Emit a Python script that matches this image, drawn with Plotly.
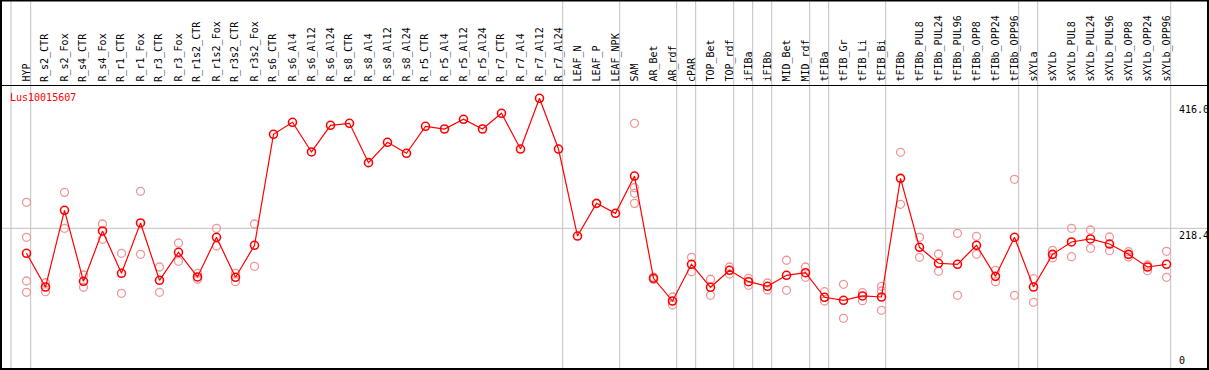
import plotly.graph_objects as go

categories = ["HYP", "R_s2_CTR", "R_s2_Fox", "R_s4_CTR", "R_s4_Fox", "R_r1_CTR", "R_r1_Fox",
              "R_r3_CTR", "R_r3_Fox", "R_r1s2_CTR", "R_r1s2_Fox", "R_r3s2_CTR", "R_r3s2_Fox",
              "R_s6_CTR", "R_s6_Al4", "R_s6_Al12", "R_s6_Al24", "R_s8_CTR", "R_s8_Al4", "R_s8_Al12",
              "R_s8_Al24", "R_r5_CTR", "R_r5_Al4", "R_r5_Al12", "R_r5_Al24", "R_r7_CTR", "R_r7_Al4",
              "R_r7_Al12", "R_r7_Al24", "LEAF_N", "LEAF_P", "LEAF_NPK", "SAM", "AR_Bet", "AR_rdf",
              "cPAR", "TOP_Bet", "TOP_rdf", "iFIBa", "iFIBb", "MID_Bet", "MID_rdf", "tFIBa",
              "tFIB_Gr", "tFIB_Li", "tFIB_Bi", "tFIBb", "tFIBb_PUL8", "tFIBb_PUL24", "tFIBb_PUL96",
              "tFIBb_OPP8", "tFIBb_OPP24", "tFIBb_OPP96", "sXYLa", "sXYLb", "sXYLb_PUL8",
              "sXYLb_PUL24", "sXYLb_PUL96", "sXYLb_OPP8", "sXYLb_OPP24", "sXYLb_OPP96"]

means = [179.3, 126.6, 246.5, 135.5, 214.2, 148.0, 226.7, 137.1, 180.9, 142.3, 204.3, 141.8, 191.8,
         365.3, 384.1, 337.7, 379.4, 382.5, 321.0, 352.8, 335.6, 377.8, 373.6, 388.8, 373.6, 398.2,
         342.3, 421.6, 342.3, 206.3, 257.4, 241.8,
         300.1, 140.2, 104.7, 162.1, 126.2, 152.7, 134.9, 127.7, 144.9, 149.0,
         110.5, 105.8, 112.6, 111.0, 296.5, 188.7, 163.7, 162.1, 191.8, 143.3, 204.3,
         126.6, 177.7, 197.0, 201.7, 193.8, 177.7, 157.9, 162.1]

replicates = [
    [259.0, 204.3, 136.0, 118.3], [133.3, 119.3], [274.6, 218.4], [145.4, 126.2], [225.1, 201.2],
    [179.3, 116.8], [276.2, 177.7], [157.9, 118.3], [195.4, 166.8], [148.0, 138.7],
    [218.4, 190.7], [148.0, 134.9], [225.1, 159.0],
    [], [], [], [], [], [], [], [], [], [], [], [], [], [], [], [], [], [], [],
    [382.5, 281.9, 273.1, 257.4], [142.0, 138.5], [111.0, 98.5], [173.0, 150.5], [138.7, 113.6],
    [157.9, 146.9], [140.2, 129.3], [132.9, 121.9], [168.4, 121.5], [157.9, 141.8],
    [119.3, 104.7], [130.8, 77.7], [117.7, 105.2], [127.7, 120.4, 90.2], [337.2, 255.9],
    [204.3, 173.0], [178.2, 151.2], [210.6, 113.6], [205.9, 177.7], [152.7, 134.9], [295.0, 113.6],
    [139.6, 102.7], [184.0, 172.0], [218.4, 174.0], [215.7, 187.1], [204.8, 183.4], [181.8, 173.5],
    [161.0, 152.1], [182.4, 141.8],
]

group_ends = [0, 28, 31, 34, 35, 37, 38, 39, 41, 42, 45, 52, 53, 60]
ytick_vals = [416.0, 218.4, 0]
ytick_text = ["416.0", "218.4", "0"]
gene_name = "Lus10015607"

W, H = 1209, 370
ML, MR, MT, MB = 1, 1, 85, 1
PW, PH = W - ML - MR, H - MT - MB
SCALE_Y = 0.6397   # px per unit
STEP_X = 19.0      # px per category
X0PX = 26.5        # pixel of first category


def px_x(p):
    return (p - ML) / PW


def px_y(p):
    return (H - MB - p) / PH


xs = list(range(len(categories)))
rx, ry = [], []
for i, reps in enumerate(replicates):
    for v in reps:
        rx.append(i)
        ry.append(v)

fig = go.Figure()
fig.add_trace(go.Scatter(x=rx, y=ry, mode="markers", hoverinfo="skip",
                         marker=dict(symbol="circle-open", size=8, color="rgb(240,150,150)",
                                     line=dict(width=1.3, color="rgb(240,150,150)"))))
fig.add_trace(go.Scatter(x=xs, y=means, mode="lines+markers",
                         line=dict(color="#ff0000", width=1.2),
                         marker=dict(symbol="circle-open", size=8, color="#ff0000",
                                     line=dict(width=1.6, color="#ff0000"))))

xmin = (ML - X0PX) / STEP_X
xmax = (W - MR - X0PX) / STEP_X
ymin = -((H - MB) - 368) / SCALE_Y
ymax = (368 - MT) / SCALE_Y

shapes = []
for k in group_ends:
    shapes.append(dict(type="line", xref="x", yref="paper", x0=k + 0.22, x1=k + 0.22,
                       y0=px_y(369), y1=px_y(0), line=dict(color="#c0c0c0", width=1), layer="below"))
shapes.append(dict(type="line", xref="paper", yref="paper", x0=px_x(11), x1=px_x(11),
                   y0=px_y(369), y1=px_y(0), line=dict(color="#c0c0c0", width=1), layer="below"))
shapes.append(dict(type="line", xref="paper", yref="y", x0=0, x1=1, y0=218.4, y1=218.4,
                   line=dict(color="#c0c0c0", width=1), layer="below"))
shapes.append(dict(type="line", xref="paper", yref="paper", x0=px_x(0), x1=px_x(1209),
                   y0=px_y(85.5), y1=px_y(85.5), line=dict(color="black", width=1)))
shapes.append(dict(type="rect", xref="paper", yref="paper", x0=px_x(1), x1=px_x(1208),
                   y0=px_y(369), y1=px_y(0.5), line=dict(color="black", width=2)))

annotations = []
for i, c in enumerate(categories):
    annotations.append(dict(x=i, xref="x", y=px_y(84), yref="paper", text=c, showarrow=False,
                            textangle=-90, xanchor="center", yanchor="bottom",
                            font=dict(family="DejaVu Sans Mono", size=10, color="black")))
for v, t in zip(ytick_vals, ytick_text):
    annotations.append(dict(x=px_x(1177), xref="paper", y=v, yref="y", text=t, showarrow=False,
                            xanchor="left", yanchor="bottom" if v == 0 else "top",
                            font=dict(family="DejaVu Sans Mono", size=10, color="black")))
annotations.append(dict(x=px_x(8), xref="paper", y=px_y(97), yref="paper", text=gene_name,
                        showarrow=False, xanchor="left", yanchor="middle",
                        font=dict(family="DejaVu Sans Mono", size=10, color="#ff0000")))

fig.update_layout(
    width=W, height=H, margin=dict(l=ML, r=MR, t=MT, b=MB, pad=0),
    paper_bgcolor="white", plot_bgcolor="white", showlegend=False,
    xaxis=dict(range=[xmin, xmax], showgrid=False, zeroline=False, showticklabels=False,
               ticks="", showline=False),
    yaxis=dict(range=[ymin, ymax], showgrid=False, zeroline=False, showticklabels=False,
               ticks="", showline=False),
    shapes=shapes, annotations=annotations,
)

fig.write_html("out.html", config={"displayModeBar": False},
               post_script="document.body.style.margin='0';document.body.style.padding='0';")
